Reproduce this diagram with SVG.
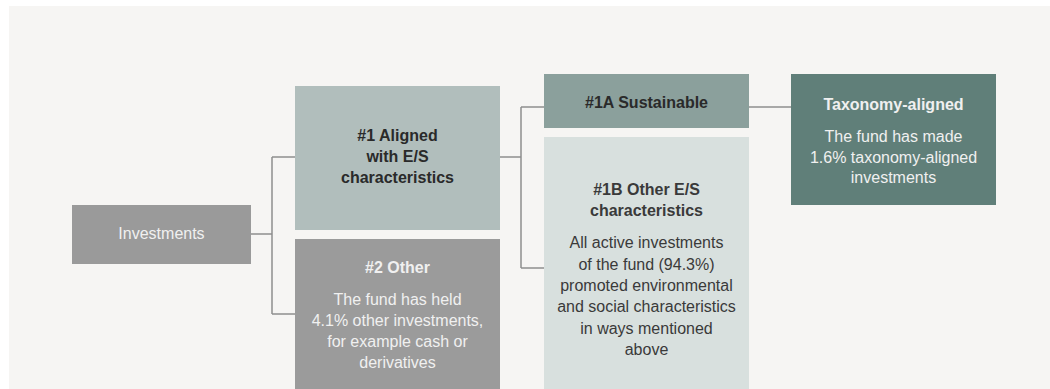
<svg xmlns="http://www.w3.org/2000/svg" width="1050" height="389" viewBox="0 0 1050 389">
<style>
text{font-family:"Liberation Sans",Arial,sans-serif;font-size:16px;text-anchor:middle}
.h{font-weight:bold}
.dk{fill:#2a2a2a}
.md{fill:#3a3a3a}
.lt{fill:#f0f0f0}
.con{fill:none;stroke:#8e8e8e;stroke-width:1.5}
</style>
<rect x="0" y="0" width="1050" height="389" fill="#ffffff"/>
<rect x="9" y="6" width="1041" height="383" fill="#f6f5f3"/>
<g id="connectors">
<path class="con" d="M251,234 H272 M272,157 V314 M272,157 H295 M272,314 H295"/>
<path class="con" d="M500,157 H521 M521,107 V268 M521,107 H544 M521,268 H544"/>
<path class="con" d="M749,107 H791"/>
</g>
<g id="investments">
<rect x="72" y="205" width="179" height="59" fill="#9a9a9a"/>
<text class="lt" x="161.5" y="239">Investments</text>
</g>
<g id="aligned">
<rect x="295" y="86" width="205" height="144" fill="#b1bebc"/>
<text class="h dk" x="397.5" y="141">#1 Aligned</text>
<text class="h dk" x="397.5" y="162">with E/S</text>
<text class="h dk" x="397.5" y="183">characteristics</text>
</g>
<g id="other">
<rect x="295" y="239" width="205" height="150" fill="#9b9b9b"/>
<text class="h lt" x="397.5" y="273">#2 Other</text>
<text class="lt" x="397.5" y="305">The fund has held</text>
<text class="lt" x="397.5" y="326">4.1% other investments,</text>
<text class="lt" x="397.5" y="347">for example cash or</text>
<text class="lt" x="397.5" y="368">derivatives</text>
</g>
<g id="sustainable">
<rect x="544" y="74" width="205" height="54" fill="#8ba09c"/>
<text class="h dk" x="646.5" y="108">#1A Sustainable</text>
</g>
<g id="other-es">
<rect x="544" y="137" width="205" height="252" fill="#d8e0de"/>
<text class="h md" x="646.5" y="195">#1B Other E/S</text>
<text class="h md" x="646.5" y="216">characteristics</text>
<text class="md" x="646.5" y="248">All active investments</text>
<text class="md" x="646.5" y="270">of the fund (94.3%)</text>
<text class="md" x="646.5" y="291">promoted environmental</text>
<text class="md" x="646.5" y="312">and social characteristics</text>
<text class="md" x="646.5" y="334">in ways mentioned</text>
<text class="md" x="646.5" y="355">above</text>
</g>
<g id="taxonomy">
<rect x="791" y="74" width="205" height="131" fill="#607f79"/>
<text class="h lt" x="893.5" y="110">Taxonomy-aligned</text>
<text class="lt" x="893.5" y="142">The fund has made</text>
<text class="lt" x="893.5" y="163">1.6% taxonomy-aligned</text>
<text class="lt" x="893.5" y="183">investments</text>
</g>
</svg>
